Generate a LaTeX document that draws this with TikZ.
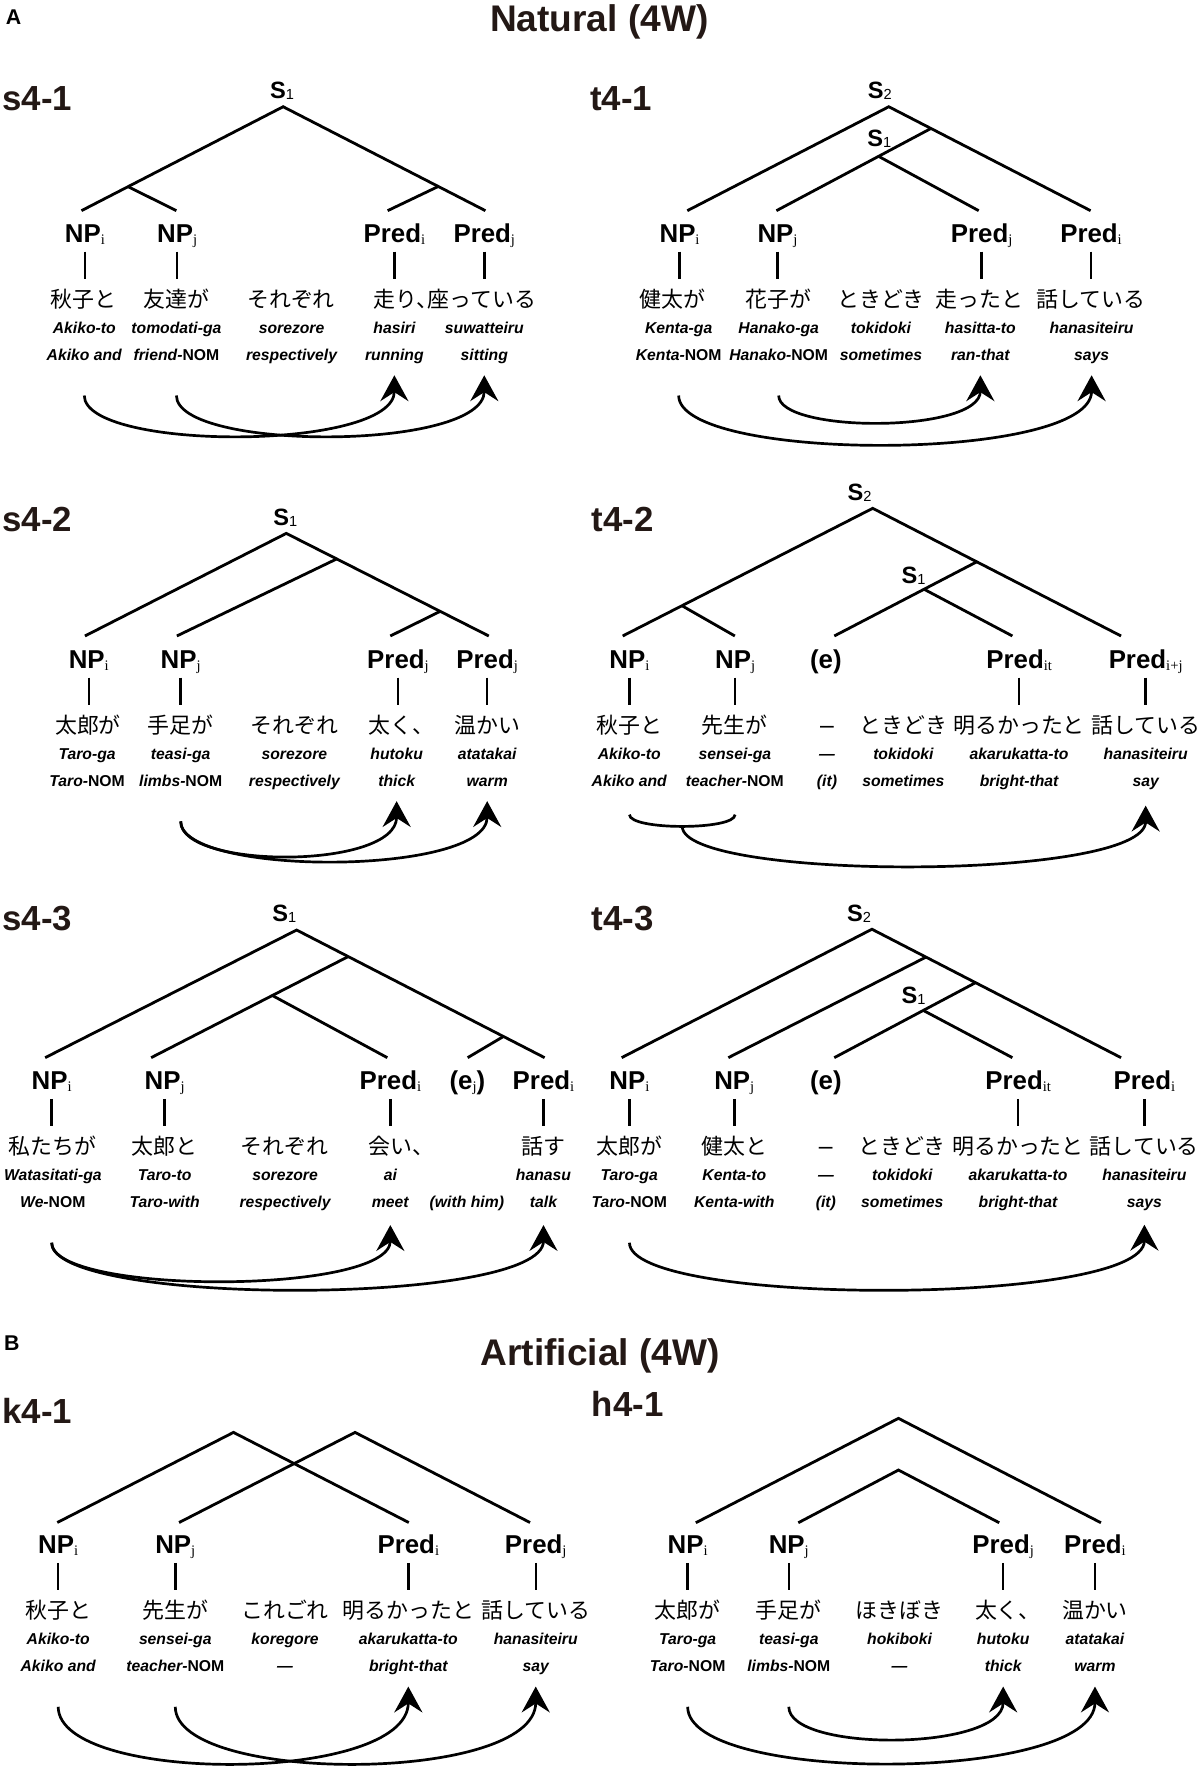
\documentclass[tikz,border=0pt]{standalone}
\usepackage{fontspec}
\setmainfont{Liberation Sans}
\newfontfamily\jp{Noto Sans CJK JP}
\newfontfamily\serifx{Liberation Serif}
\usetikzlibrary{arrows.meta,calc}
\definecolor{labcol}{RGB}{35,24,21}
\newcommand{\subx}[1]{\raisebox{-1.5pt}{\serifx\mdseries\upshape\fontsize{13}{13}\selectfont #1}}
\newcommand{\subn}[1]{\raisebox{-1pt}{\mdseries\fontsize{13}{13}\selectfont #1}}
\newcommand{\jdash}{{\normalfont\fontsize{22}{22}\selectfont –}}
\tikzset{
  lab/.style={anchor=base, inner sep=0pt, font=\bfseries\fontsize{23}{23}\selectfont},
  slab/.style={anchor=base, inner sep=0pt, font=\bfseries\fontsize{21}{21}\selectfont},
  jpn/.style={anchor=base, inner sep=0pt, font=\jp\fontsize{19.5}{20}\selectfont},
  rom/.style={anchor=base, inner sep=0pt, font=\bfseries\itshape\fontsize{14}{14}\selectfont},
  gls/.style={anchor=base, inner sep=0pt, font=\bfseries\itshape\fontsize{14}{14}\selectfont},
  sec/.style={anchor=base west, inner sep=0pt, text=labcol, font=\bfseries\fontsize{31}{31}\selectfont},
  ttl/.style={anchor=base west, inner sep=0pt, text=labcol, font=\bfseries\fontsize{33}{33}\selectfont},
  pan/.style={anchor=base west, inner sep=0pt, font=\bfseries\fontsize{19}{19}\selectfont},
  stem/.style={line width=2.2pt},
  tree/.style={line width=2.5pt, line join=miter},
  arr/.style={line width=2.4pt, -{Stealth[length=23pt, width=25pt, inset=8pt]}},
  brk/.style={line width=2.4pt}
}
% label + stem: name, x, L, label
\newcommand{\hcol}[4]{%
  \node[lab] (#1-l) at (#2,#3) {#4};
  \coordinate (#1-a) at (#2,#3+8);
  \coordinate (#1-b) at (#2,#3+32.5);
  \draw[stem] (#1-a) -- (#1-b);}
% words: name, x, L, jp x, jp, rom, gloss
\newcommand{\wcol}[7]{%
  \node[jpn] (#1-j) at (#4,#3+57.5) {#5};
  \node[rom] (#1-r) at (#2,#3+81) {#6};
  \node[gls] (#1-g) at (#2,#3+105) {#7};
  \coordinate (#1-s) at (#2,#3+136);
  \coordinate (#1-t) at (#2,#3+118);}
\newcommand{\warc}[4]{\draw[arr] (#1) .. controls +(0,#3) and +(0,#4) .. (#2);}
\begin{document}
\begin{tikzpicture}[x=1pt,y=-1pt]
\useasboundingbox (0,0) rectangle (1068,1572.6);
% ---------- headings ----------
\node[pan] (pA) at (5,22) {A};
\node[ttl] (tA) at (436,28) {Natural (4W)};
\node[pan] (pB) at (3.5,1201.5) {B};
\node[ttl] (tB) at (427.5,1215) {Artificial (4W)};
\node[sec] (ls1) at (2,98) {s4-1};
\node[sec] (lt1) at (525,98) {t4-1};
\node[sec] (ls2) at (2,473) {s4-2};
\node[sec] (lt2) at (526.5,473) {t4-2};
\node[sec] (ls3) at (2,827.7) {s4-3};
\node[sec] (lt3) at (526.5,827.7) {t4-3};
\node[sec] (lk1) at (2,1266.8) {k4-1};
\node[sec] (lh1) at (526.5,1261) {h4-1};

% ================= s4-1 =================
\node[slab] (s1Sl) at (251,87.5) {S\subn{1}};
\coordinate (s1S) at (252,95);
\coordinate (s1T1) at (72.5,187.5);
\coordinate (s1T2) at (157,187.5);
\coordinate (s1T3) at (345,187.5);
\coordinate (s1T4) at (432,187.5);
\coordinate (s1J1) at ($(s1S)!0.769!(s1T1)$);
\coordinate (s1J2) at ($(s1S)!0.767!(s1T4)$);
\draw[tree] (s1T1) -- (s1S) -- (s1T4);
\draw[tree] (s1J1) -- (s1T2);
\draw[tree] (s1J2) -- (s1T3);
\hcol{s1a}{75.6}{216}{NP\subx{i}}
\hcol{s1b}{157.7}{216}{NP\subx{j}}
\hcol{s1d}{351}{216}{Pred\subx{i}}
\hcol{s1e}{431}{216}{Pred\subx{j}}
\wcol{s1a}{75}{216}{74}{秋子と}{Akiko-to}{Akiko and}
\wcol{s1b}{157}{216}{157}{友達が}{tomodati-ga}{friend-\textup{NOM}}
\wcol{s1c}{259.5}{216}{259}{それぞれ}{sorezore}{respectively}
\wcol{s1d}{351}{216}{351}{}{hasiri}{running}
\wcol{s1e}{431}{216}{431}{}{suwatteiru}{sitting}
\node[jpn,anchor=base west] (s1de-j) at (332.5,273.5) {走り、\kern-0.5em 座っている};
\warc{s1a-s}{s1d-t}{49.7}{67.7}
\warc{s1b-s}{s1e-t}{49.7}{67.7}

% ================= t4-1 =================
\node[slab] (t1S2l) at (783,87.5) {S\subn{2}};
\node[slab] (t1S1l) at (782.5,130.5) {S\subn{1}};
\coordinate (t1S) at (791,95);
\coordinate (t1T1) at (611.7,187.5);
\coordinate (t1T2) at (691,187.5);
\coordinate (t1T3) at (871,187.5);
\coordinate (t1T4) at (970.6,187.5);
\coordinate (t1J1) at ($(t1S)!0.209!(t1T4)$);
\coordinate (t1J2) at ($(t1J1)!0.339!(t1T2)$);
\draw[tree] (t1T1) -- (t1S) -- (t1T4);
\draw[tree] (t1J1) -- (t1T2);
\draw[tree] (t1J2) -- (t1T3);
\hcol{t1a}{604.8}{216}{NP\subx{i}}
\hcol{t1b}{692}{216}{NP\subx{j}}
\hcol{t1d}{873.6}{216}{Pred\subx{j}}
\hcol{t1e}{971}{216}{Pred\subx{i}}
\wcol{t1a}{604}{216}{598.7}{健太が}{Kenta-ga}{Kenta-\textup{NOM}}
\wcol{t1b}{693}{216}{693}{花子が}{Hanako-ga}{Hanako-\textup{NOM}}
\wcol{t1c}{784}{216}{784}{ときどき}{tokidoki}{sometimes}
\wcol{t1d}{872.5}{216}{872}{走ったと}{hasitta-to}{ran-that}
\wcol{t1e}{971.5}{216}{971}{話している}{hanasiteiru}{says}
\warc{t1b-s}{t1d-t}{33.7}{51.7}
\warc{t1a-s}{t1e-t}{59.8}{77.8}

% ================= s4-2 =================
\node[slab] (s2Sl) at (254,467.3) {S\subn{1}};
\coordinate (s2S) at (254.8,474.7);
\coordinate (s2T1) at (75.6,566);
\coordinate (s2T2) at (157.4,566);
\coordinate (s2T3) at (347.4,566);
\coordinate (s2T4) at (435,566);
\coordinate (s2J1) at ($(s2S)!0.249!(s2T4)$);
\coordinate (s2J2) at ($(s2S)!0.76!(s2T4)$);
\draw[tree] (s2T1) -- (s2S) -- (s2T4);
\draw[tree] (s2J1) -- (s2T2);
\draw[tree] (s2J2) -- (s2T3);
\hcol{s2a}{79}{595}{NP\subx{i}}
\hcol{s2b}{160.8}{595}{NP\subx{j}}
\hcol{s2d}{354.2}{595}{Pred\subx{j}}
\hcol{s2e}{433.6}{595}{Pred\subx{j}}
\wcol{s2a}{77.5}{595}{78.3}{太郎が}{Taro-ga}{Taro-\textup{NOM}}
\wcol{s2b}{160.8}{595}{160.8}{手足が}{teasi-ga}{limbs-\textup{NOM}}
\wcol{s2c}{262}{595}{262}{それぞれ}{sorezore}{respectively}
\wcol{s2d}{353}{595}{357}{太く、}{hutoku}{thick}
\wcol{s2e}{433.6}{595}{434}{温かい}{atatakai}{warm}
\warc{s2b-s}{s2d-t}{43}{61}
\warc{s2b-s}{s2e-t}{49}{67}

% ================= t4-2 =================
\node[slab] (t2S2l) at (765,445) {S\subn{2}};
\node[slab] (t2S1l) at (813,519) {S\subn{1}};
\coordinate (t2S) at (776.7,452.4);
\coordinate (t2T1) at (554.2,566);
\coordinate (t2T2) at (654,566);
\coordinate (t2T3) at (742.5,566);
\coordinate (t2T4) at (901,566);
\coordinate (t2T5) at (997.7,566);
\coordinate (t2J1) at ($(t2S)!0.763!(t2T1)$);
\coordinate (t2J2) at ($(t2S)!0.419!(t2T5)$);
\coordinate (t2J3) at ($(t2J2)!0.37!(t2T3)$);
\draw[tree] (t2T1) -- (t2S) -- (t2T5);
\draw[tree] (t2J1) -- (t2T2);
\draw[tree] (t2J2) -- (t2T3);
\draw[tree] (t2J3) -- (t2T4);
\hcol{t2a}{560.2}{595}{NP\subx{i}}
\hcol{t2b}{654.2}{595}{NP\subx{j}}
\node[lab] (t2x-l) at (735,595) {(e)};
\hcol{t2d}{907}{595}{Pred\subx{it}}
\hcol{t2e}{1019.6}{595}{Pred\subx{i+j}}
\wcol{t2a}{560}{595}{560}{秋子と}{Akiko-to}{Akiko and}
\wcol{t2b}{654}{595}{654}{先生が}{sensei-ga}{teacher-\textup{NOM}}
\wcol{t2x}{736}{595}{736}{\jdash}{—}{(it)}
\wcol{t2c}{804}{595}{804}{ときどき}{tokidoki}{sometimes}
\wcol{t2d}{907}{595}{907}{明るかったと}{akarukatta-to}{bright-that}
\wcol{t2e}{1019.6}{595}{1019.6}{話している}{hanasiteiru}{say}
\coordinate (t2a-u) at (560.2,725);
\coordinate (t2b-u) at (654.2,725);
\coordinate (t2m) at (607.2,735.5);
\coordinate (t2e-v) at (1019.6,717);
\draw[brk] (t2a-u) .. controls +(0,14) and +(0,14) .. (t2b-u);
\warc{t2m}{t2e-v}{48.5}{67.5}

% ================= s4-3 =================
\node[slab] (s3Sl) at (253,820.3) {S\subn{1}};
\coordinate (s3S) at (264,827.7);
\coordinate (s3T1) at (40.2,941.3);
\coordinate (s3T2) at (134.5,941.3);
\coordinate (s3T3) at (344.7,941.3);
\coordinate (s3T4) at (416.2,941.3);
\coordinate (s3T5) at (484.7,941.3);
\coordinate (s3J1) at ($(s3S)!0.208!(s3T5)$);
\coordinate (s3J2) at ($(s3J1)!0.385!(s3T2)$);
\coordinate (s3J3) at ($(s3S)!0.834!(s3T5)$);
\draw[tree] (s3T1) -- (s3S) -- (s3T5);
\draw[tree] (s3J1) -- (s3T2);
\draw[tree] (s3J2) -- (s3T3);
\draw[tree] (s3J3) -- (s3T4);
\hcol{s3a}{46}{970}{NP\subx{i}}
\hcol{s3b}{146.5}{970}{NP\subx{j}}
\hcol{s3d}{347.4}{970}{Pred\subx{i}}
\node[lab] (s3x-l) at (416,970) {(e\subx{j})};
\hcol{s3e}{483.7}{970}{Pred\subx{i}}
\wcol{s3a}{47}{970}{46.8}{私たちが}{Watasitati-ga}{We-\textup{NOM}}
\wcol{s3b}{146.5}{970}{146.5}{太郎と}{Taro-to}{Taro-with}
\wcol{s3c}{253.7}{970}{253}{それぞれ}{sorezore}{respectively}
\wcol{s3d}{347.4}{970}{357}{会い、}{ai}{meet}
\wcol{s3e}{483.7}{970}{484}{話す}{hanasu}{talk}
\node[gls] (s3x-g) at (415.5,1075) {(with him)};
\coordinate (s3a-u) at (46,1106);
\coordinate (s3d-v) at (347.4,1090.3);
\coordinate (s3e-v) at (483.7,1090.3);
\warc{s3a-u}{s3d-v}{46.6}{62.3}
\warc{s3a-u}{s3e-v}{56.75}{72.4}

% ================= t4-3 =================
\node[slab] (t3S2l) at (764.5,820.3) {S\subn{2}};
\node[slab] (t3S1l) at (813,893) {S\subn{1}};
\coordinate (t3S) at (776,827);
\coordinate (t3T1) at (553.2,941.3);
\coordinate (t3T2) at (648.2,941.3);
\coordinate (t3T3) at (742.5,941.3);
\coordinate (t3T4) at (901,941.3);
\coordinate (t3T5) at (997.7,941.3);
\coordinate (t3J1) at ($(t3S)!0.217!(t3T5)$);
\coordinate (t3J2) at ($(t3S)!0.416!(t3T5)$);
\coordinate (t3J3) at ($(t3J2)!0.37!(t3T3)$);
\draw[tree] (t3T1) -- (t3S) -- (t3T5);
\draw[tree] (t3J1) -- (t3T2);
\draw[tree] (t3J2) -- (t3T3);
\draw[tree] (t3J3) -- (t3T4);
\hcol{t3a}{560.2}{970}{NP\subx{i}}
\hcol{t3b}{653.5}{970}{NP\subx{j}}
\node[lab] (t3x-l) at (735,970) {(e)};
\hcol{t3d}{906.2}{970}{Pred\subx{it}}
\hcol{t3e}{1018.5}{970}{Pred\subx{i}}
\wcol{t3a}{560}{970}{560}{太郎が}{Taro-ga}{Taro-\textup{NOM}}
\wcol{t3b}{653.5}{970}{653.5}{健太と}{Kenta-to}{Kenta-with}
\wcol{t3x}{735}{970}{735}{\jdash}{—}{(it)}
\wcol{t3c}{803}{970}{803}{ときどき}{tokidoki}{sometimes}
\wcol{t3d}{906}{970}{906}{明るかったと}{akarukatta-to}{bright-that}
\wcol{t3e}{1018.5}{970}{1018.5}{話している}{hanasiteiru}{says}
\coordinate (t3a-u) at (560.2,1106);
\coordinate (t3e-v) at (1018.5,1090);
\warc{t3a-u}{t3e-v}{56.8}{72.8}

% ================= k4-1 =================
\coordinate (k1A) at (207.8,1274.8);
\coordinate (k1B) at (316,1274.8);
\coordinate (k1T1) at (51,1355);
\coordinate (k1T2) at (159.4,1355);
\coordinate (k1T3) at (363.8,1355);
\coordinate (k1T4) at (471.7,1355);
\draw[tree] (k1T1) -- (k1A) -- (k1T3);
\draw[tree] (k1T2) -- (k1B) -- (k1T4);
\hcol{k1a}{51.8}{1383}{NP\subx{i}}
\hcol{k1b}{156}{1383}{NP\subx{j}}
\hcol{k1d}{363.4}{1383}{Pred\subx{i}}
\hcol{k1e}{476.8}{1383}{Pred\subx{j}}
\wcol{k1a}{51.8}{1383}{51.8}{秋子と}{Akiko-to}{Akiko and}
\wcol{k1b}{156}{1383}{156}{先生が}{sensei-ga}{teacher-\textup{NOM}}
\wcol{k1c}{253.7}{1383}{253.7}{これごれ}{koregore}{—}
\wcol{k1d}{363.4}{1383}{363.4}{明るかったと}{akarukatta-to}{bright-that}
\wcol{k1e}{476.8}{1383}{476.8}{話している}{hanasiteiru}{say}
\warc{k1a-s}{k1d-t}{69}{87}
\warc{k1b-s}{k1e-t}{69}{87}

% ================= h4-1 =================
\coordinate (h1A) at (799.6,1262.3);
\coordinate (h1B) at (799.6,1308.3);
\coordinate (h1T1) at (619.3,1355.2);
\coordinate (h1T2) at (710.5,1355.2);
\coordinate (h1T3) at (889.3,1355.2);
\coordinate (h1T4) at (979.8,1355.2);
\draw[tree] (h1T1) -- (h1A) -- (h1T4);
\draw[tree] (h1T2) -- (h1B) -- (h1T3);
\hcol{h1a}{612}{1383}{NP\subx{i}}
\hcol{h1b}{702}{1383}{NP\subx{j}}
\hcol{h1d}{892.8}{1383}{Pred\subx{j}}
\hcol{h1e}{974.5}{1383}{Pred\subx{i}}
\wcol{h1a}{612}{1383}{612}{太郎が}{Taro-ga}{Taro-\textup{NOM}}
\wcol{h1b}{702}{1383}{702}{手足が}{teasi-ga}{limbs-\textup{NOM}}
\wcol{h1c}{800.6}{1383}{800.6}{ほきぼき}{hokiboki}{—}
\wcol{h1d}{892.8}{1383}{897}{太く、}{hutoku}{thick}
\wcol{h1e}{974.5}{1383}{974.5}{温かい}{atatakai}{warm}
\warc{h1b-s}{h1d-t}{40.7}{57.6}
\warc{h1a-s}{h1e-t}{69.2}{86.1}
\end{tikzpicture}
\end{document}
